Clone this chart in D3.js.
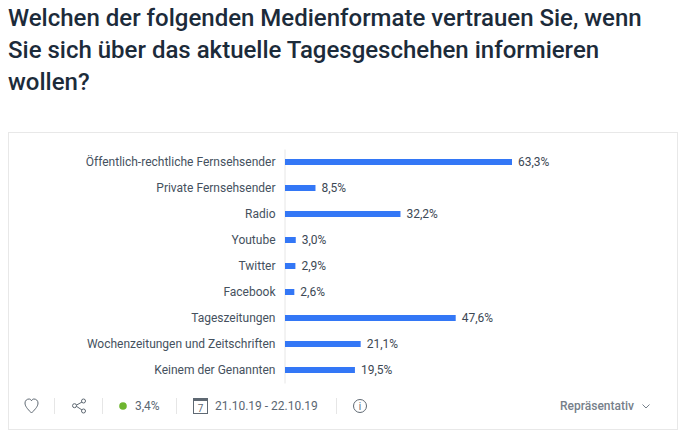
<!DOCTYPE html>
<html>
<head>
<meta charset="utf-8">
<script src="https://cdn.jsdelivr.net/npm/d3@7"></script>
<style>
html, body { margin: 0; padding: 0; background: #fff; }
svg { display: block; font-family: Roboto, sans-serif; }
</style>
</head>
<body>
<div id="chart"></div>
<script>
// Daten
var titleLines = [
    "Welchen der folgenden Medienformate vertrauen Sie, wenn",
    "Sie sich über das aktuelle Tagesgeschehen informieren",
    "wollen?"
];
var categories = [
    "Öffentlich-rechtliche Fernsehsender",
    "Private Fernsehsender",
    "Radio",
    "Youtube",
    "Twitter",
    "Facebook",
    "Tageszeitungen",
    "Wochenzeitungen und Zeitschriften",
    "Keinem der Genannten"
];
var values = [63.3, 8.5, 32.2, 3.0, 2.9, 2.6, 47.6, 21.1, 19.5];
var errorText = "3,4%";
var dateText = "21.10.19 - 22.10.19";
var sampleText = "Repräsentativ";

var width = 685, height = 438;
var svg = d3.select("#chart").append("svg")
    .attr("width", width)
    .attr("height", height);

// Titel
svg.selectAll(".title")
    .data(titleLines)
    .enter().append("text")
    .attr("class", "title")
    .attr("x", 8)
    .attr("y", function (d, i) { return 26 + i * 32; })
    .attr("fill", "#1c2b3a")
    .style("font-size", "24px")
    .style("font-weight", 500)
    .text(function (d) { return d; });

// Rahmen
svg.append("rect")
    .attr("x", 8.5).attr("y", 132.5)
    .attr("width", 669).attr("height", 297)
    .attr("fill", "#fff")
    .attr("stroke", "#e8e8e8");

// Skalen
var x = d3.scaleLinear().domain([0, 63.3]).range([285, 512]);
var y = d3.scaleBand().domain(categories).range([149, 383]);

// Achse
var yAxis = svg.append("g")
    .attr("transform", "translate(284.5,0)")
    .call(d3.axisLeft(y).tickSize(0).tickPadding(9));
yAxis.select(".domain").attr("stroke", "#e6e6e6");
yAxis.selectAll("text")
    .attr("fill", "#45515e")
    .style("font-family", "Roboto, sans-serif")
    .style("font-size", "12px");

// Balken
svg.selectAll(".bar")
    .data(values)
    .enter().append("rect")
    .attr("class", "bar")
    .attr("x", x(0))
    .attr("y", function (d, i) { return y(categories[i]) + y.bandwidth() / 2 - 3; })
    .attr("width", function (d) { return x(d) - x(0); })
    .attr("height", 6)
    .attr("fill", "#3377f6");

// Werte
svg.selectAll(".val")
    .data(values)
    .enter().append("text")
    .attr("class", "val")
    .attr("x", function (d) { return x(d) + 6; })
    .attr("y", function (d, i) { return y(categories[i]) + y.bandwidth() / 2 + 4; })
    .attr("fill", "#3c4854")
    .style("font-size", "12px")
    .text(function (d) { return d.toFixed(1).replace(".", ",") + "%"; });

// Fusszeile
var footY = 406;
[54.5, 102.5, 176.5, 336.5].forEach(function (sx, i) {
    svg.append("line")
        .attr("class", "sep")
        .attr("x1", sx).attr("x2", sx)
        .attr("y1", footY - 8).attr("y2", footY + 8)
        .attr("stroke", "#e6e6e6");
});

var iconColor = "#5f6973";
// Herz
svg.append("path")
    .attr("d", "M31.5 413 C27 408.5 25 406 25 403 C25 400.5 27 399 29 399 C30 399 31 399.5 31.5 400.8 C32 399.5 33 399 34 399 C36 399 38 400.5 38 403 C38 406 36 408.5 31.5 413 Z")
    .attr("fill", "none").attr("stroke", iconColor).attr("stroke-width", 1);
// Teilen
svg.append("path")
    .attr("d", "M82 402 L75.5 405.7 L82 410")
    .attr("fill", "none").attr("stroke", iconColor);
[[83.5, 401], [74.5, 405.7], [83.5, 411]].forEach(function (p) {
    svg.append("circle")
        .attr("cx", p[0]).attr("cy", p[1]).attr("r", 2)
        .attr("fill", "#fff").attr("stroke", iconColor);
});
// Punkt
svg.append("circle")
    .attr("cx", 123).attr("cy", 406).attr("r", 3.8).attr("fill", "#6eb52f");
svg.append("text")
    .attr("x", 135).attr("y", 410)
    .attr("fill", "#5b6672").style("font-size", "12px")
    .text(errorText);
// Kalender
svg.append("rect")
    .attr("x", 193.5).attr("y", 398.5).attr("width", 14).attr("height", 15)
    .attr("fill", "none").attr("stroke", iconColor);
svg.append("rect")
    .attr("x", 193.5).attr("y", 398.5).attr("width", 14).attr("height", 2.5)
    .attr("fill", iconColor);
svg.append("text")
    .attr("x", 200.5).attr("y", 412)
    .attr("text-anchor", "middle")
    .attr("fill", iconColor).style("font-size", "10px")
    .text("7");
svg.append("text")
    .attr("x", 215).attr("y", 410)
    .attr("fill", "#5b6672").style("font-size", "12px")
    .text(dateText);
// Info
svg.append("circle")
    .attr("cx", 360).attr("cy", 406).attr("r", 6.5)
    .attr("fill", "none").attr("stroke", iconColor);
svg.append("text")
    .attr("x", 360).attr("y", 409.5)
    .attr("text-anchor", "middle")
    .attr("fill", iconColor).style("font-size", "10px")
    .text("i");
// Dropdown
svg.append("text")
    .attr("x", 560).attr("y", 410)
    .attr("fill", "#76808a").style("font-size", "12px")
    .style("font-weight", 500)
    .text(sampleText);
svg.append("path")
    .attr("d", "M642.5 404.5 L646 408 L649.5 404.5")
    .attr("fill", "none").attr("stroke", "#76808a");
</script>
</body>
</html>
